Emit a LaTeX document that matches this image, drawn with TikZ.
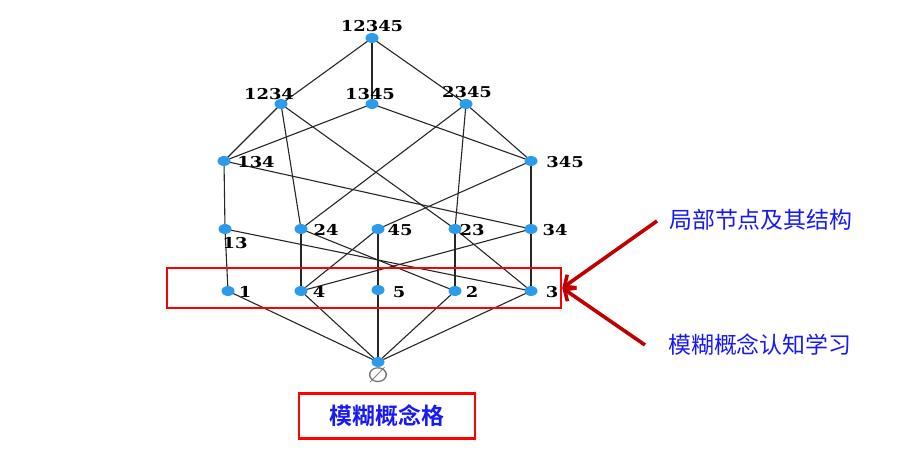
\documentclass[tikz,border=0pt]{standalone}
\usepackage{fontspec}
\newfontfamily\cjk{Noto Sans CJK SC}[BoldFont={Noto Sans CJK SC Bold}]
\newfontfamily\lab{DejaVu Serif}
\newfontfamily\symf{DejaVu Sans}
\usetikzlibrary{arrows.meta,shapes.geometric}
\definecolor{dotblue}{RGB}{45,155,235}
\definecolor{arrred}{RGB}{192,0,0}
\definecolor{txtblue}{RGB}{25,25,245}
\newcommand{\widen}[1]{\scalebox{1.2}[1]{#1}}
\pgfdeclarelayer{bg}
\pgfsetlayers{bg,main}
\begin{document}
\begin{tikzpicture}[x=1bp,y=-1bp,
  dot/.style={shape=ellipse,minimum width=13bp,minimum height=10bp,inner sep=0pt,fill=dotblue,draw=none},
  lbl/.style={font=\lab\bfseries\fontsize{15}{15}\selectfont,inner sep=0pt,text=black},
  ln/.style={draw=black!85,line width=1.1bp},
  redbox/.style={draw=red,line width=2.6bp},
  arr/.style={draw=arrred,line width=3.6bp,-{Straight Barb[length=9bp,width=16bp]}},
  cn/.style={font=\cjk\fontsize{23}{24}\selectfont,text=txtblue,inner sep=0pt}]
\useasboundingbox (0,0) rectangle (917,457);
% dots
\node[dot] (n12345) at (372,38) {};
\node[dot] (n1234) at (281,104) {};
\node[dot] (n1345) at (372,104) {};
\node[dot] (n2345) at (466,104) {};
\node[dot] (n134) at (224,161) {};
\node[dot] (n345) at (531,161) {};
\node[dot] (n13) at (225,229) {};
\node[dot] (n24) at (301,229) {};
\node[dot] (n45) at (378,229) {};
\node[dot] (n23) at (455,229) {};
\node[dot] (n34) at (531,229) {};
\node[dot] (n1) at (228,291) {};
\node[dot] (n4) at (301,291) {};
\node[dot] (n5) at (378,290) {};
\node[dot] (n2) at (455,291) {};
\node[dot] (n3) at (531,291) {};
\node[dot] (n0) at (378,362) {};
% labels
\node[lbl] (l12345) at (372,26) {\widen{12345}};
\node[lbl] (l1234) at (269,94) {\widen{1234}};
\node[lbl] (l1345) at (370,94) {\widen{1345}};
\node[lbl] (l2345) at (467,92) {\widen{2345}};
\node[lbl] (l134) at (256,162) {\widen{134}};
\node[lbl] (l345) at (565,162) {\widen{345}};
\node[lbl] (l13) at (235,243) {\widen{13}};
\node[lbl] (l24) at (326,230) {\widen{24}};
\node[lbl] (l45) at (400,230) {\widen{45}};
\node[lbl] (l23) at (472,230) {\widen{23}};
\node[lbl] (l34) at (555,230) {\widen{34}};
\node[lbl] (l1) at (245,292) {\widen{1}};
\node[lbl] (l4) at (319,292) {\widen{4}};
\node[lbl] (l5) at (399,292) {\widen{5}};
\node[lbl] (l2) at (472,292) {\widen{2}};
\node[lbl] (l3) at (552,292) {\widen{3}};
\node[font=\symf\fontsize{21}{21}\selectfont,text=black!55,inner sep=0pt] (l0) at (378,375) {\widen{∅}};
% edges
\begin{pgfonlayer}{bg}
\foreach \a/\b in {12345/1234,12345/1345,12345/2345,
  1234/134,1234/24,1234/23,1345/134,1345/345,
  2345/24,2345/23,2345/345,134/13,134/34,345/45,345/34,
  13/1,13/3,24/4,24/2,45/4,45/5,23/2,23/3,34/4,34/3,
  1/0,4/0,5/0,2/0,3/0}
  \draw[ln] (n\a.center) -- (n\b.center);
\end{pgfonlayer}
% red boxes
\node[redbox,minimum width=394bp,minimum height=40bp,inner sep=0pt] (box1) at (364,288) {};
\node[redbox,minimum width=176bp,minimum height=45bp,inner sep=0pt,font=\cjk\bfseries\fontsize{23}{24}\selectfont,text=txtblue] (box2) at (387,416) {模糊概念格};
% annotations
\node[cn,anchor=west] (t1) at (669,220) {局部节点及其结构};
\node[cn,anchor=west] (t2) at (668,345) {模糊概念认知学习};
\coordinate (a1) at (657,221);
\coordinate (a2) at (645,345);
\draw[arr] (a1) -- (box1.east);
\draw[arr] (a2) -- (box1.east);
\end{tikzpicture}
\end{document}
